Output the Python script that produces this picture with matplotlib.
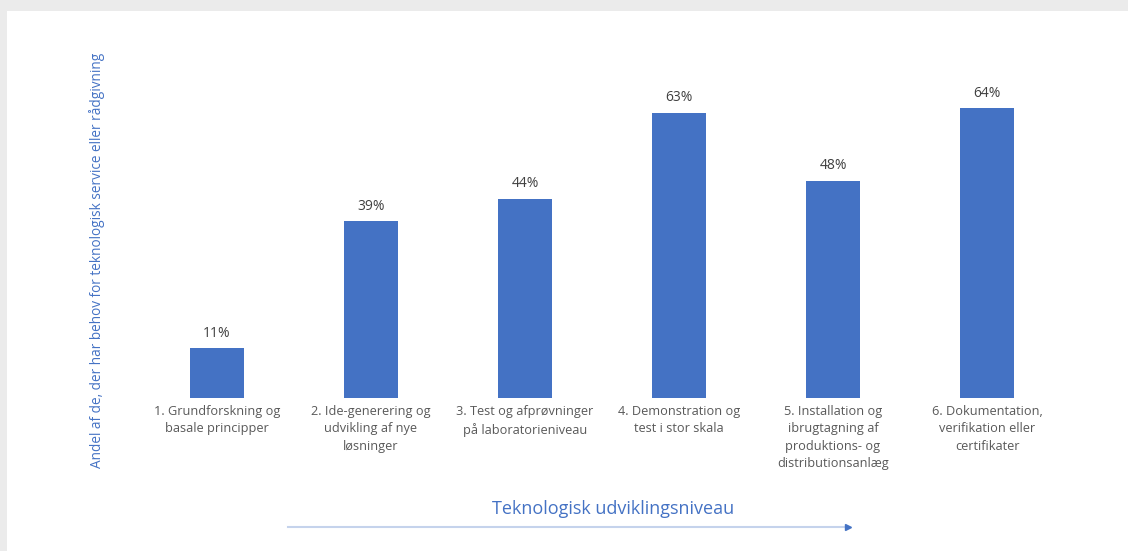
import matplotlib.pyplot as plt
from matplotlib.patches import Rectangle

plt.rcParams['font.family'] = ['Open Sans', 'DejaVu Sans']

categories = [
    "1. Grundforskning og\nbasale principper",
    "2. Ide-generering og\nudvikling af nye\nløsninger",
    "3. Test og afprøvninger\npå laboratorieniveau",
    "4. Demonstration og\ntest i stor skala",
    "5. Installation og\nibrugtagning af\nproduktions- og\ndistributionsanlæg",
    "6. Dokumentation,\nverifikation eller\ncertifikater",
]
values = [11, 39, 44, 63, 48, 64]

bar_color = "#4472C4"
W, H = 1128, 551

fig = plt.figure(figsize=(W / 100, H / 100), dpi=100)
fig.patch.set_facecolor("#ebebeb")
# white panel behind everything
fig.patches.append(Rectangle((7 / W, 0), 1, 1 - 11 / H, transform=fig.transFigure,
                             facecolor="white", edgecolor="none", zorder=-5))

ax = fig.add_axes([140 / W, (H - 398) / H, 924 / W, 338 / H])
ax.set_facecolor("none")
x = range(len(values))
bars = ax.bar(x, values, width=0.35, color=bar_color)
ax.set_xlim(-0.5, 5.5)
ax.set_ylim(0, 74.6)
for b, v in zip(bars, values):
    ax.text(b.get_x() + b.get_width() / 2, v + 1.6, f"{v}%", ha="center", va="bottom",
            fontsize=10, color="#404040")
ax.set_xticks(list(x))
ax.set_xticklabels(categories, fontsize=9.2, color="#595959", linespacing=1.45, va="top")
ax.tick_params(axis="x", length=0, pad=5)
ax.set_yticks([])
for s in ax.spines.values():
    s.set_visible(False)

fig.text(97 / W, 1 - 260 / H, "Andel af de, der har behov for teknologisk service eller rådgivning",
         rotation=90, ha="center", va="center", fontsize=9.8, color=bar_color)
fig.text(613 / W, 1 - 509 / H, "Teknologisk udviklingsniveau", ha="center", va="center",
         fontsize=13, color=bar_color)
fig.add_artist(plt.Line2D([288 / W, 845 / W], [1 - 527 / H] * 2, color="#c5d3ec", lw=1.5))
fig.add_artist(plt.Line2D([848 / W], [1 - 527 / H], marker=">", markersize=5,
                          color=bar_color, lw=0))

fig.savefig("out.png", dpi=100, facecolor=fig.get_facecolor())
